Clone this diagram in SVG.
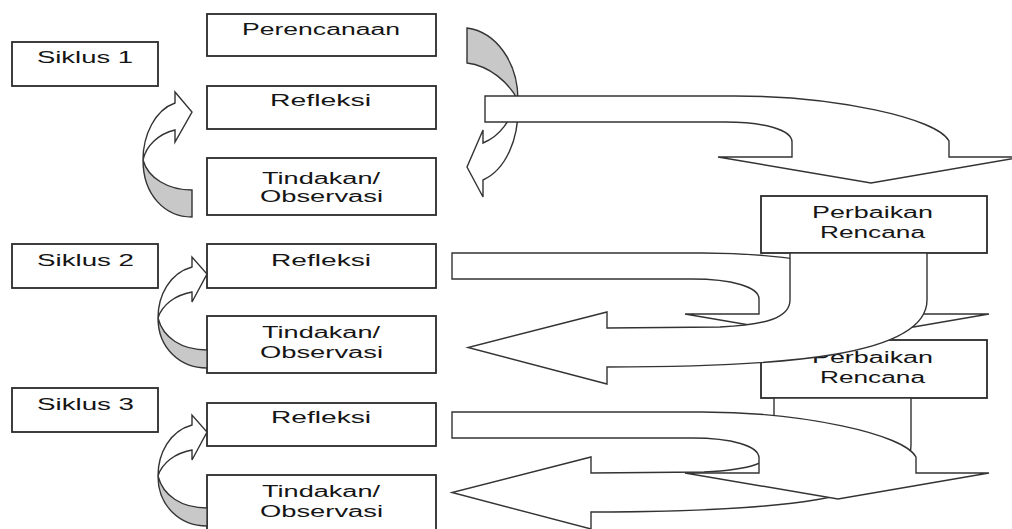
<svg xmlns="http://www.w3.org/2000/svg" xmlns:xlink="http://www.w3.org/1999/xlink" width="1012" height="529" viewBox="0 0 1012 529">
<style>
.box{fill:#ffffff;stroke:#2a2a2a;stroke-width:1.8}
.t{font-family:"Liberation Sans",Arial,sans-serif;font-size:16px;fill:#151515}
.arw{fill:#ffffff;stroke:#333333;stroke-width:1.4;stroke-linejoin:miter}
.back{fill:#c8c8c8;stroke:#333333;stroke-width:1.4}
</style>
<defs>
<path id="downArrow" d="M0,0 L250,0 C350,0 452,22 464,45 L464,61 L537,61 L386,87 L233,61 L307,61 L307,46 C307,34 280,26 240,26 L0,26 Z"/>
<path id="leftArrow" d="M790,253 L790,300 C790,318 765,325 720,327 L607,328 L607,312 L468,347.5 L607,384 L607,367 C785,367 927,356 927,300 L927,253 Z"/>
<path id="loopFront" d="M192,267 C170,273 158,295 158,318 C162,305 175,295 192,292 L192,302 L207,274 L192,257 Z"/>
<path id="loopBack" d="M158,318 C158,348 180,368 207,368 L207,350 C182,350 163,338 158,318 Z"/>
</defs>
<rect width="1012" height="529" fill="#ffffff"/>
<g id="siklus1"><rect class="box" x="12" y="42" width="146" height="44"/><text class="t" x="37" y="63" textLength="96" lengthAdjust="spacingAndGlyphs">Siklus 1</text></g>
<g id="perencanaan"><rect class="box" x="207" y="14" width="229" height="42"/><text class="t" x="242" y="35" textLength="158" lengthAdjust="spacingAndGlyphs">Perencanaan</text></g>
<g id="refleksi1"><rect class="box" x="207" y="86" width="229" height="43"/><text class="t" x="270" y="106" textLength="101" lengthAdjust="spacingAndGlyphs">Refleksi</text></g>
<g id="tindakan1"><rect class="box" x="207" y="158" width="229" height="57"/><text class="t" x="262" y="184" textLength="118" lengthAdjust="spacingAndGlyphs">Tindakan/</text><text class="t" x="260" y="202" textLength="123" lengthAdjust="spacingAndGlyphs">Observasi</text></g>
<g id="siklus2"><rect class="box" x="12" y="244" width="146" height="44"/><text class="t" x="37" y="266" textLength="97" lengthAdjust="spacingAndGlyphs">Siklus 2</text></g>
<g id="refleksi2"><rect class="box" x="207" y="244" width="229" height="44"/><text class="t" x="271" y="266" textLength="100" lengthAdjust="spacingAndGlyphs">Refleksi</text></g>
<g id="tindakan2"><rect class="box" x="207" y="316" width="229" height="57"/><text class="t" x="262" y="338" textLength="118" lengthAdjust="spacingAndGlyphs">Tindakan/</text><text class="t" x="260" y="358" textLength="123" lengthAdjust="spacingAndGlyphs">Observasi</text></g>
<g id="siklus3"><rect class="box" x="12" y="388" width="146" height="44"/><text class="t" x="37" y="410" textLength="97" lengthAdjust="spacingAndGlyphs">Siklus 3</text></g>
<g id="refleksi3"><rect class="box" x="207" y="403" width="229" height="43"/><text class="t" x="271" y="423" textLength="100" lengthAdjust="spacingAndGlyphs">Refleksi</text></g>
<g id="tindakan3"><rect class="box" x="207" y="475" width="229" height="60"/><text class="t" x="262" y="497" textLength="118" lengthAdjust="spacingAndGlyphs">Tindakan/</text><text class="t" x="260" y="517" textLength="123" lengthAdjust="spacingAndGlyphs">Observasi</text></g>
<g id="perbaikan1"><rect class="box" x="761" y="196" width="226" height="57"/><text class="t" x="812" y="218" textLength="121" lengthAdjust="spacingAndGlyphs">Perbaikan</text><text class="t" x="820" y="238" textLength="105" lengthAdjust="spacingAndGlyphs">Rencana</text></g>
<g id="perbaikan2"><rect class="box" x="761" y="340" width="226" height="58"/><text class="t" x="812" y="363" textLength="121" lengthAdjust="spacingAndGlyphs">Perbaikan</text><text class="t" x="820" y="383" textLength="105" lengthAdjust="spacingAndGlyphs">Rencana</text></g>
<g id="connectors">
<g id="loop1-left">
<path class="arw" d="M175,103 C155,110 143,135 143,160 C146,146 158,134 175,130 L175,142 L192,112 L175,92 Z"/>
<path class="back" d="M143,160 C143,195 165,217 192,217 L192,190 C168,190 148,178 143,160 Z"/>
</g>
<g id="loop1-right">
<path class="back" d="M467,28 C496,32 518,62 518,100 C508,82 490,66 467,63 Z"/>
<path class="arw" d="M518,100 C520,140 505,170 483,180 L483,197 L467,167 L483,130 L483,143 C500,136 512,120 515,100 Z"/>
</g>
<g id="loop2-left"><use href="#loopFront" class="arw"/><use href="#loopBack" class="back"/></g>
<g id="loop3-left" transform="translate(0,158)"><use href="#loopFront" class="arw"/><use href="#loopBack" class="back"/></g>
<use id="refleksi1-to-perbaikan1" href="#downArrow" class="arw" transform="translate(485,96)"/>
<use id="refleksi2-to-perbaikan2" href="#downArrow" class="arw" transform="translate(452,253)"/>
<use id="perbaikan1-to-tindakan2" href="#leftArrow" class="arw"/>
<use id="perbaikan2-to-tindakan3" href="#leftArrow" class="arw" transform="translate(-16,145)"/>
<use id="refleksi3-down" href="#downArrow" class="arw" transform="translate(452,412)"/>
</g>
</svg>
